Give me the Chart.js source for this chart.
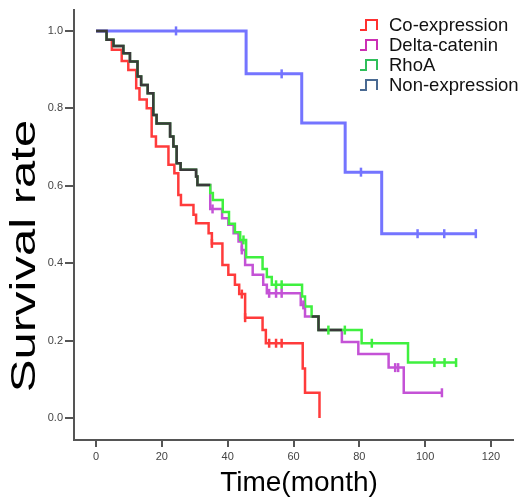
<!DOCTYPE html>
<html>
<head>
<meta charset="utf-8">
<script src="https://cdn.jsdelivr.net/npm/chart.js@4.4.1/dist/chart.umd.min.js"></script>
<style>
  body { margin: 0; background: #fff; }
</style>
</head>
<body>
<canvas id="km" width="525" height="497"></canvas>
<script>
const xTicks = [0, 20, 40, 60, 80, 100, 120];
const yTicks = [0, 0.2, 0.4, 0.6, 0.8, 1.0];
const groups = ['Co-expression', 'Delta-catenin', 'RhoA', 'Non-expression'];

// Co-expression (red)
const coTime = [0, 3.2, 4.8, 7.8, 9.8, 12.2, 13.2, 15.4, 16.9, 18.2, 22.0, 23.8, 25.0, 25.8, 29.6, 30.4, 34.2, 35.2, 38.4, 40.2, 42.2, 43.5, 45.3, 50.6, 51.6, 62.8, 63.5, 67.9];
const coSurv = [1, 0.977, 0.951, 0.922, 0.899, 0.852, 0.823, 0.800, 0.727, 0.701, 0.654, 0.632, 0.576, 0.550, 0.525, 0.503, 0.477, 0.451, 0.395, 0.370, 0.344, 0.320, 0.259, 0.227, 0.193, 0.128, 0.065, 0.0];
const coCens = [35.2, 44.3, 45.3, 52.6, 54.7, 56.4];

// Delta-catenin (magenta)
const deltaTime = [0, 3.2, 5.3, 8.3, 10.3, 12.6, 13.7, 15.7, 17.4, 18.4, 22.5, 23.5, 24.5, 25.7, 30.4, 30.8, 34.7, 38.3, 40.2, 41.8, 43.3, 44.3, 45.3, 47.6, 50.8, 51.9, 62.2, 63.5, 67.6, 74.7, 79.7, 88.9, 93.5, 105.1];
const deltaSurv = [1, 0.977, 0.961, 0.942, 0.921, 0.882, 0.860, 0.839, 0.783, 0.761, 0.727, 0.701, 0.658, 0.641, 0.624, 0.602, 0.540, 0.516, 0.499, 0.477, 0.456, 0.434, 0.395, 0.370, 0.344, 0.322, 0.292, 0.262, 0.227, 0.196, 0.165, 0.130, 0.065, 0.065];
const deltaCens = [35.4, 44.3, 52.6, 54.7, 56.4, 63.0, 90.9, 91.8, 105.1];

// RhoA (green)
const rhoTime = [0, 3.2, 5.3, 8.3, 10.3, 12.6, 13.7, 15.7, 17.4, 18.4, 22.5, 23.5, 24.5, 25.7, 30.4, 30.8, 34.7, 35.5, 38.5, 40.4, 42.2, 43.8, 45.6, 50.6, 51.9, 53.4, 62.6, 63.5, 65.5, 67.6, 80.7, 94.8, 109.4];
const rhoSurv = [1, 0.977, 0.961, 0.942, 0.921, 0.882, 0.860, 0.839, 0.783, 0.761, 0.727, 0.701, 0.658, 0.641, 0.624, 0.602, 0.581, 0.563, 0.532, 0.502, 0.480, 0.460, 0.415, 0.385, 0.364, 0.344, 0.314, 0.288, 0.262, 0.227, 0.193, 0.143, 0.143];
const rhoCens = [44.8, 54.7, 56.4, 70.6, 75.6, 83.8, 102.8, 105.9, 109.4];

// Non-expression (blue)
const nonTime = [0, 45.6, 62.5, 75.7, 86.8, 115.4];
const nonSurv = [1, 0.889, 0.762, 0.635, 0.476, 0.476];
const nonCens = [24.3, 56.4, 80.5, 97.7, 105.8, 115.4];

// stretches where Delta-catenin and RhoA coincide (drawn dark)
const bothTime = [0, 3.2, 5.3, 8.3, 10.3, 12.6, 13.7, 15.7, 17.4, 18.4, 22.5, 23.5, 24.5, 25.7, 30.4, 30.8, 34.7, 50, 65.5, 67.6, 74.7];
const bothSurv = [1, 0.977, 0.961, 0.942, 0.921, 0.882, 0.860, 0.839, 0.783, 0.761, 0.727, 0.701, 0.658, 0.641, 0.624, 0.602, 0.602, null, 0.262, 0.227, 0.227];

const lineColors = ['#ff3b3b', '#c452d6', '#3ff03f', '#7474ff'];
const legendColors = ['#ff3030', '#cc2fb4', '#2fbf5a', '#4a6a92'];

function points(time, surv) {
  return time.map((t, i) => ({ x: t, y: surv[i] }));
}
function survAt(time, surv, t) {
  let v = surv[0];
  for (let i = 0; i < time.length; i++) if (time[i] <= t) v = surv[i];
  return v;
}
function censored(time, surv, cens) {
  return cens.map(t => ({ x: t, y: survAt(time, surv, t) }));
}

// higher order = drawn further below
function curve(data, color, width, order) {
  return { data: data, borderColor: color, borderWidth: width, stepped: true,
           pointRadius: 0, fill: false, spanGaps: false, order: order };
}
function marks(data, color) {
  return { data: data, showLine: false, pointStyle: 'line', pointRotation: 90,
           pointRadius: 4.5, pointBorderWidth: 2.5, pointBorderColor: color,
           pointBackgroundColor: color, borderColor: color, order: 0 };
}

const datasets = [
  curve(points(coTime, coSurv), lineColors[0], 2.5, 5),
  curve(points(deltaTime, deltaSurv), lineColors[1], 2.5, 4),
  curve(points(rhoTime, rhoSurv), lineColors[2], 2.5, 3),
  curve(points(nonTime, nonSurv), lineColors[3], 3, 2),
  curve(points(bothTime, bothSurv), '#3a3a3a', 2.5, 1),
  marks(censored(coTime, coSurv, coCens), lineColors[0]),
  marks(censored(deltaTime, deltaSurv, deltaCens), lineColors[1]),
  marks(censored(rhoTime, rhoSurv, rhoCens), lineColors[2]),
  marks(censored(nonTime, nonSurv, nonCens), lineColors[3])
];

const font = '"Liberation Sans", Arial, sans-serif';

const extras = {
  id: 'extras',
  afterDraw(chart) {
    const c = chart.ctx;
    c.save();
    c.fillStyle = '#000';
    c.font = '28px ' + font;
    c.textAlign = 'center';
    c.textBaseline = 'alphabetic';
    c.fillText('Time(month)', 299, 491);

    c.save();
    c.translate(35, 256);
    c.rotate(-Math.PI / 2);
    c.scale(1.4, 1);
    c.font = '35px ' + font;
    c.fillText('Survival rate', 0, 0);
    c.restore();

    c.font = '18.5px ' + font;
    c.textAlign = 'left';
    c.textBaseline = 'middle';
    groups.forEach((g, i) => {
      const y = 25 + i * 20;
      c.strokeStyle = legendColors[i];
      c.lineWidth = 2;
      c.beginPath();
      c.moveTo(360, y + 5);
      c.lineTo(366, y + 5);
      c.lineTo(366, y - 5);
      c.lineTo(377, y - 5);
      c.lineTo(377, y + 5);
      c.stroke();
      c.fillStyle = '#111';
      c.fillText(g, 389, y + 1);
    });
    c.restore();
  }
};

new Chart(document.getElementById('km'), {
  type: 'line',
  data: { datasets: datasets },
  options: {
    responsive: false,
    animation: false,
    layout: { padding: { top: 10, right: 12, left: 0, bottom: 0 } },
    plugins: { legend: { display: false }, tooltip: { enabled: false } },
    scales: {
      x: {
        type: 'linear',
        min: -6.7,
        max: 126.7,
        afterBuildTicks: s => { s.ticks = xTicks.map(v => ({ value: v })); },
        afterFit: s => { s.height = 57; },
        ticks: { color: '#444', font: { size: 11, family: font }, padding: 3, maxRotation: 0,
                 callback: v => String(v) },
        grid: { drawOnChartArea: false, tickLength: 7, color: '#555', lineWidth: 2 },
        border: { color: '#555', width: 2 }
      },
      y: {
        type: 'linear',
        min: -0.057,
        max: 1.054,
        afterBuildTicks: s => { s.ticks = yTicks.map(v => ({ value: v })); },
        afterFit: s => { s.width = 74; },
        ticks: { color: '#444', font: { size: 11, family: font }, padding: 2,
                 callback: v => v.toFixed(1) },
        grid: { drawOnChartArea: false, tickLength: 9, color: '#555', lineWidth: 2 },
        border: { color: '#555', width: 2 }
      }
    }
  },
  plugins: [extras]
});
</script>
</body>
</html>
